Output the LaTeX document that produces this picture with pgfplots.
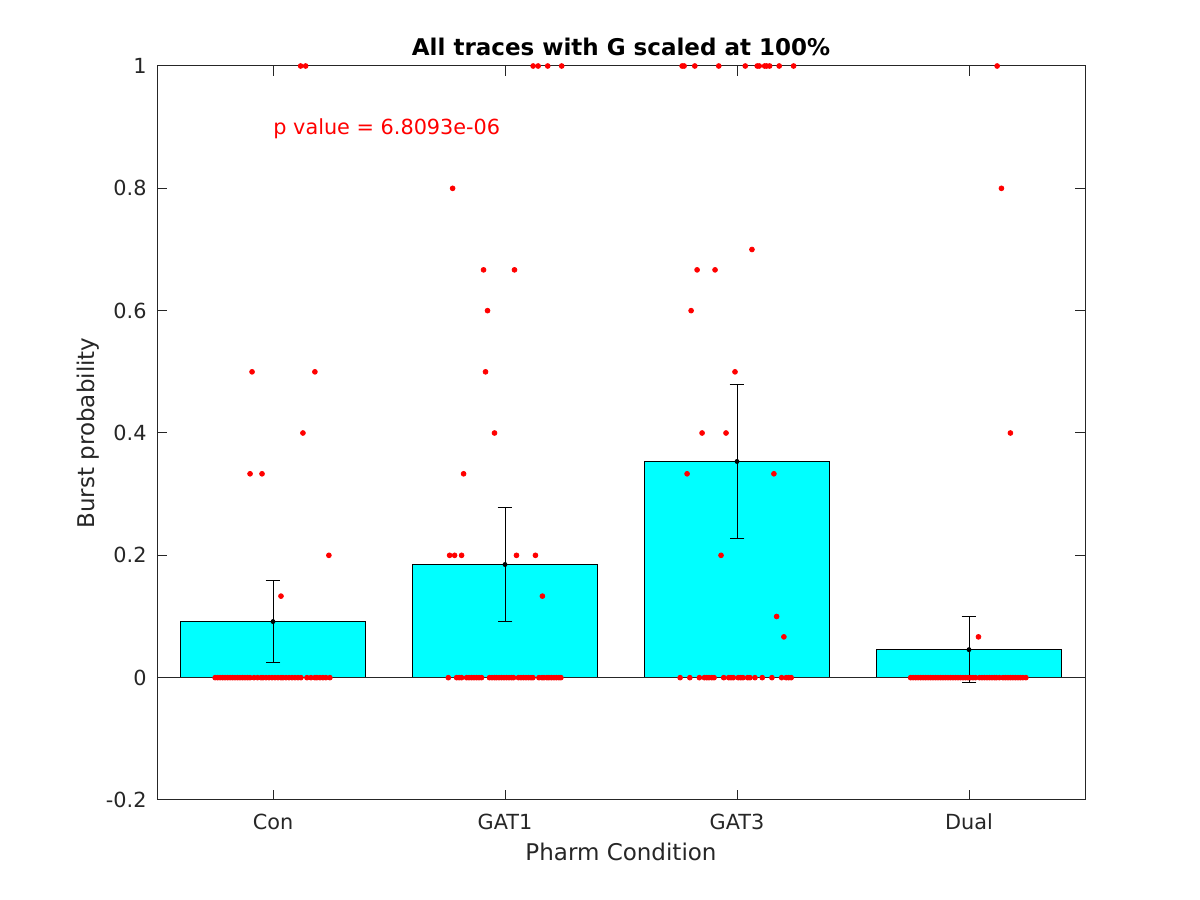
\documentclass[border=0pt]{standalone}
\usepackage{fontspec}
\setmainfont{DejaVu Sans}
\usepackage{pgfplots}
\pgfplotsset{compat=1.18}
\definecolor{axgray}{HTML}{262626}
\begin{document}
\begin{tikzpicture}
\path[use as bounding box] (0,0) rectangle (600pt,450pt);
\begin{axis}[
  at={(78.5pt,50pt)}, anchor=south west,
  scale only axis, width=464pt, height=367pt,
  xmin=0.5, xmax=4.5, ymin=-0.2, ymax=1,
  xtick={1,2,3,4}, xticklabels={Con,GAT1,GAT3,Dual},
  ytick={-0.2,0,0.2,0.4,0.6,0.8,1},
  yticklabels={-0.2,0,0.2,0.4,0.6,0.8,1},
  tick align=inside, major tick length=5pt,
  xtick pos=both, ytick pos=both,
  axis line style={axgray, line width=0.5pt},
  tick style={axgray, line width=0.5pt},
  /pgf/number format/assume math mode=true,
  tick label style={font=\fontsize{10.4}{12.5}\selectfont, text=axgray},
  xticklabel style={yshift=-3.5pt},
  yticklabel style={xshift=-1.7pt},
  xlabel={Pharm Condition}, ylabel={Burst probability},
  label style={font=\fontsize{11.5}{13.8}\selectfont, text=axgray},
  xlabel style={at={(axis description cs:0.5,-0.0708)}, anchor=center},
  ylabel style={at={(axis description cs:-0.0744,0.5)}, anchor=center},
  title={All traces with G scaled at 100\%},
  every axis title shift=0pt,
  title style={font=\fontsize{11.5}{13.8}\selectfont\bfseries, at={(axis description cs:0.5,1.0259)}, anchor=center},
  clip=false,
]
% bars
\addplot[ybar, bar width=0.8, fill={rgb,1:red,0;green,1;blue,1}, draw=black, line width=0.5pt]
  coordinates {(1,0.0917) (2,0.185) (3,0.3535) (4,0.0458)};
% baseline
\addplot[axgray, line width=0.5pt] coordinates {(0.5,0) (4.5,0)};
% error bars with mean markers
\addplot[only marks, mark=*, mark size=1pt, black,
  error bars/.cd, y dir=both, y explicit,
  error bar style={black, line width=0.5pt},
  error mark options={rotate=90, mark size=3.7pt, black, line width=0.5pt}]
  coordinates {
   (1,0.0917) +- (0,0.0672)
   (2,0.185) +- (0,0.0925)
   (3,0.3535) +- (0,0.1255)
   (4,0.0458) +- (0,0.054)
  };
% individual data points
\addplot[only marks, mark=*, mark size=1.2pt, red, mark options={draw=red, fill=red}] coordinates {
% Con
(0.7505,0) (0.7613,0) (0.7720,0) (0.7828,0) (0.7935,0) (0.8043,0) (0.8151,0) (0.8258,0)
(0.8366,0) (0.8473,0) (0.8581,0) (0.8688,0) (0.8796,0) (0.8903,0) (0.9011,0)
(0.9183,0) (0.9333,0) (0.9484,0)
(0.9570,0) (0.9699,0) (0.9828,0) (0.9957,0) (1.0086,0) (1.0215,0) (1.0344,0)
(1.0430,0) (1.0559,0) (1.0688,0) (1.0817,0) (1.0946,0) (1.1075,0) (1.1204,0)
(1.1462,0) (1.1634,0) (1.1806,0)
(1.1892,0) (1.2022,0) (1.2151,0) (1.2280,0) (1.2452,0)
(1.1191,1) (1.1406,1) (0.9097,0.5) (1.1806,0.5) (0.9011,0.3333) (0.9527,0.3333)
(1.1290,0.4) (1.2409,0.2) (1.0344,0.1333)
% GAT1
(1.7557,0) (1.7914,0) (1.8022,0) (1.8129,0)
(1.8344,0) (1.8452,0) (1.8559,0) (1.8667,0) (1.8774,0) (1.8882,0) (1.8989,0)
(1.9333,0) (1.9441,0) (1.9548,0)
(1.9634,0) (1.9742,0) (1.9849,0) (1.9957,0) (2.0065,0) (2.0172,0) (2.0280,0) (2.0366,0)
(2.0581,0) (2.0688,0) (2.0796,0) (2.0903,0) (2.1011,0) (2.1118,0) (2.1204,0)
(2.1462,0) (2.1591,0) (2.1677,0) (2.1806,0)
(2.1892,0) (2.2000,0) (2.2108,0) (2.2215,0) (2.2323,0) (2.2409,0)
(2.1213,1) (2.1428,1) (2.1841,1) (2.2443,1)
(1.7742,0.8) (1.9075,0.6667) (2.0409,0.6667) (1.9247,0.6) (1.9161,0.5) (1.9548,0.4)
(1.8215,0.3333) (1.7613,0.2) (1.7828,0.2) (1.8129,0.2) (2.0495,0.2) (2.1312,0.2)
(2.1613,0.1333)
% GAT3
(2.7548,0) (2.7966,0) (2.8378,0) (2.8594,0) (2.8697,0) (2.8796,0) (2.8912,0) (2.9011,0)
(2.9428,0) (2.9643,0) (2.9742,0) (2.9841,0) (3.0056,0) (3.0159,0) (3.0258,0) (3.0460,0)
(3.0559,0) (3.0774,0) (3.1088,0) (3.1505,0) (3.1923,0) (3.2120,0) (3.2224,0) (3.2335,0)
(2.7634,1) (2.7720,1) (2.8181,1) (2.9213,1) (3.0357,1) (3.0873,1) (3.0959,1) (3.1191,1)
(3.1277,1) (3.1406,1) (3.1819,1) (3.2439,1)
(2.8280,0.6667) (2.9054,0.6667) (2.8022,0.6) (3.0645,0.7) (2.9914,0.5)
(2.8495,0.4) (2.9527,0.4) (2.7849,0.3333) (3.1591,0.3333) (2.9312,0.2)
(3.1708,0.1) (3.2022,0.0667)
% Dual
(3.7484,0) (3.7591,0) (3.7699,0) (3.7806,0) (3.7914,0) (3.8022,0) (3.8129,0) (3.8237,0)
(3.8344,0) (3.8452,0) (3.8559,0) (3.8667,0) (3.8774,0) (3.8882,0) (3.8989,0) (3.9097,0)
(3.9204,0) (3.9312,0) (3.9419,0) (3.9527,0) (3.9634,0) (3.9742,0) (3.9849,0) (3.9957,0)
(4.0065,0) (4.0172,0) (4.0280,0)
(4.0452,0) (4.0559,0) (4.0667,0) (4.0774,0) (4.0882,0) (4.0989,0) (4.1097,0) (4.1183,0)
(4.1312,0) (4.1462,0) (4.1570,0) (4.1677,0) (4.1785,0)
(4.1892,0) (4.2000,0) (4.2108,0) (4.2215,0) (4.2323,0) (4.2452,0)
(4.1213,1) (4.1398,0.8) (4.1785,0.4) (4.0408,0.0667)
};
\node[anchor=west, text=red, font=\fontsize{10.4}{12.5}\selectfont, inner sep=0pt] at (axis cs:1,0.897) {p value = 6.8093e-06};
\end{axis}
\end{tikzpicture}
\end{document}
